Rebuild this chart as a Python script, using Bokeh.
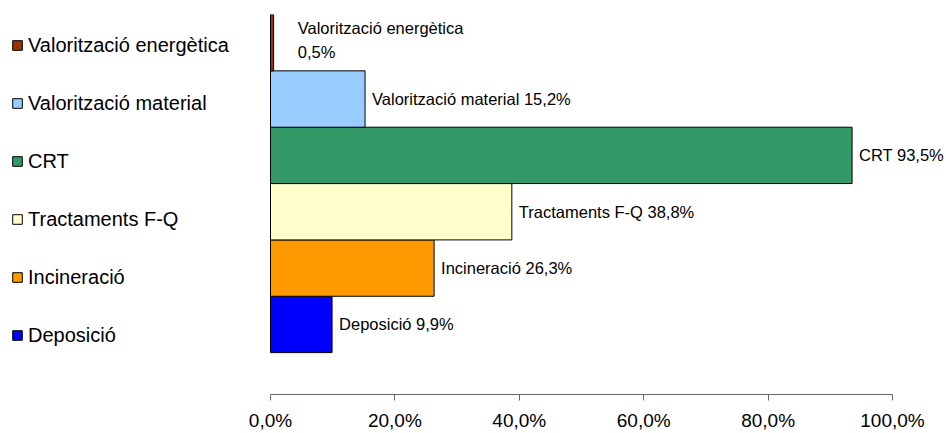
from bokeh.plotting import figure
from bokeh.models import (ColumnDataSource, Range1d, FixedTicker, Legend, LegendItem,
                          LabelSet)
from bokeh.core.properties import value
from bokeh.embed import file_html
from bokeh.resources import INLINE

# ---- data (bottom to top) ----
categories = ["Deposició", "Incineració", "Tractaments F-Q", "CRT",
              "Valorització material", "Valorització energètica"]
values = [9.9, 26.3, 38.8, 93.5, 15.2, 0.5]
colors = ["#0000FF", "#FF9900", "#FFFFCC", "#339966", "#99CCFF", "#993300"]
x_ticks = [0, 20, 40, 60, 80, 100]
x_tick_labels = ["0,0%", "20,0%", "40,0%", "60,0%", "80,0%", "100,0%"]

FONT = "Liberation Sans"

def fmt(v):
    return ("%.1f%%" % v).replace(".", ",")

# ---- geometry (pixels inside the figure) ----
W, H = 946, 433
ZERO_PX, HUNDRED_PX = 270, 892
TOP_PX = 14
BAR_PX = 56.5
AXIS_SIZE = 38
ITEM_H = 58
scale = (HUNDRED_PX - ZERO_PX) / 100.0
x_start = -ZERO_PX / scale
x_end = 100 + (W - HUNDRED_PX) / scale
frame_h = H - TOP_PX - AXIS_SIZE
y_end = len(categories) - 0.5
y_start = y_end - frame_h / BAR_PX

pos = list(range(len(categories)))

p = figure(width=W, height=H, output_backend="svg", toolbar_location=None,
           x_range=Range1d(x_start, x_end), y_range=Range1d(y_start, y_end),
           y_axis_type=None, min_border_left=0, min_border_right=0,
           min_border_top=TOP_PX)
p.outline_line_color = None
p.xgrid.visible = False
p.ygrid.visible = False
p.background_fill_color = "white"

renderers = []
for i in pos:
    s = ColumnDataSource(dict(y=[pos[i]], right=[values[i]], color=[colors[i]]))
    r = p.hbar(y="y", left=0, right="right", height=1.0, fill_color="color",
               line_color="black", line_width=1, source=s)
    renderers.append(r)

# data labels (all except the tiny top bar)
lab_idx = [i for i in pos if values[i] >= 1]
lab_src = ColumnDataSource(dict(
    x=[values[i] for i in lab_idx],
    y=[pos[i] for i in lab_idx],
    t=["%s %s" % (categories[i], fmt(values[i])) for i in lab_idx]))
p.add_layout(LabelSet(x="x", y="y", text="t", source=lab_src, x_offset=7,
                      text_align="left", text_baseline="middle",
                      text_font=value(FONT), text_font_size="16.5px",
                      text_color="black"))

small_idx = [i for i in pos if values[i] < 1]
small_src = ColumnDataSource(dict(
    x=[values[i] for i in small_idx],
    y=[pos[i] for i in small_idx],
    t=["%s\n%s" % (categories[i], fmt(values[i])) for i in small_idx]))
p.add_layout(LabelSet(x="x", y="y", text="t", source=small_src, x_offset=107,
                      y_offset=3, text_align="center", text_baseline="middle",
                      text_line_height=1.33,
                      text_font=value(FONT), text_font_size="16.5px",
                      text_color="black"))

# x axis
ax = p.xaxis[0]
ax.bounds = (x_ticks[0], x_ticks[-1])
ax.ticker = FixedTicker(ticks=x_ticks)
ax.major_label_overrides = {t: l for t, l in zip(x_ticks, x_tick_labels)}
ax.minor_tick_line_color = None
ax.major_tick_in = 0
ax.major_tick_out = 6
ax.major_label_standoff = 9
ax.axis_line_color = "#666666"
ax.major_tick_line_color = "#666666"
ax.major_label_text_font = FONT
ax.major_label_text_font_size = "19px"
ax.major_label_text_color = "black"

# legend (top to bottom); location is its bottom-left corner
items = [LegendItem(label=categories[i], renderers=[renderers[i]])
         for i in reversed(pos)]
legend_h = ITEM_H * len(items)
legend = Legend(items=items, location=(11, frame_h - 3 - legend_h),
                orientation="vertical",
                label_text_font=FONT, label_text_font_size="20px",
                label_text_color="black", glyph_width=12, glyph_height=12,
                label_standoff=5, label_height=ITEM_H, spacing=0, padding=0,
                margin=0, border_line_color=None, background_fill_alpha=0)
p.add_layout(legend, "center")

open("out.html", "w").write(file_html(p, INLINE))
